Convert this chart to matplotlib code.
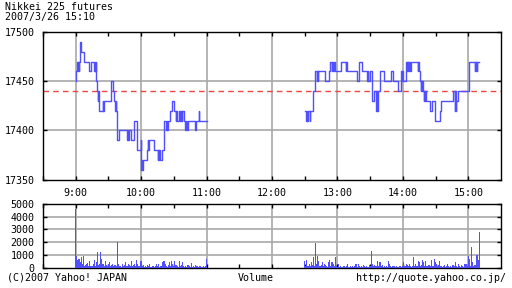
import matplotlib
matplotlib.use("Agg")
import matplotlib.pyplot as plt
import numpy as np

# ---------------- data ----------------
title_lines = ["Nikkei 225 futures", "2007/3/26 15:10"]
hour_ticks = [9, 10, 11, 12, 13, 14, 15]
hour_labels = ["9:00", "10:00", "11:00", "12:00", "13:00", "14:00", "15:00"]
price_ticks = [17350, 17400, 17450, 17500]
volume_ticks = [0, 1000, 2000, 3000, 4000, 5000]
reference_price = 17440

# morning session: minutes after 9:00 and price at each change
am_minutes = [0, 0.3, 0.9, 1.8, 2.3, 2.8, 3.2, 4.0, 4.9, 7.6, 11.9, 13.8, 17.1, 17.5, 17.9, 18.3,
              18.7, 19.9, 20.3, 20.7, 21.0, 21.4, 21.8, 24.8, 25.2, 25.6, 26.0, 26.3, 32.1, 34.0,
              35.5, 36.0, 36.5, 37.0, 37.6, 39.4, 47.4, 47.9, 48.4, 48.9, 50.8, 53.2, 56.0, 56.6,
              59.6, 60.0, 60.8, 61.2, 61.5, 65.7, 66.1, 66.5, 67.0, 72.2, 75.2, 75.8, 76.3, 76.8,
              77.3, 78.9, 81.3, 82.8, 83.3, 84.0, 84.5, 86.5, 88.4, 90.2, 91.7, 92.2, 92.7, 94.8,
              96.0, 96.4, 97.5, 97.9, 99.7, 100.2, 101.2, 101.6, 102.0, 102.4, 102.8, 109.8, 110.4,
              112.8, 113.5, 120.0]
am_prices = [17450, 17460, 17470, 17460, 17470, 17460, 17470, 17490, 17480, 17470, 17460, 17470, 17460, 17470, 17460, 17470,
             17450, 17440, 17430, 17440, 17420, 17430, 17420, 17430, 17420, 17430, 17420, 17430, 17450, 17440,
             17430, 17420, 17430, 17420, 17390, 17400, 17390, 17400, 17390, 17400, 17390, 17410, 17390, 17380,
             17390, 17360, 17370, 17360, 17370, 17380, 17390, 17380, 17390, 17380, 17370, 17380, 17370, 17380,
             17370, 17380, 17410, 17400, 17410, 17400, 17410, 17420, 17430, 17420, 17410, 17420, 17410, 17420,
             17410, 17420, 17410, 17420, 17410, 17400, 17410, 17400, 17410, 17400, 17410, 17400, 17410,
             17420, 17410, 17410]

# afternoon session: minutes after 12:30 and price at each change
pm_minutes = [0.6, 1.2, 1.8, 2.3, 3.3, 4.5, 5.2, 7.9, 9.8, 11.0, 11.5, 12.0, 12.5, 19.0, 22.0, 23.3,
              24.9, 25.3, 25.8, 26.5, 28.2, 33.4, 37.8, 38.3, 38.8, 39.5, 48.0, 50.2, 52.7, 57.3,
              57.8, 58.3, 59.5, 61.3, 63.4, 65.5, 66.0, 66.5, 67.4, 69.2, 72.3, 79.3, 80.9, 85.5,
              88.0, 88.5, 89.0, 89.5, 90.0, 93.0, 93.5, 94.0, 94.5, 95.0, 95.5, 96.0, 96.5, 97.7,
              103.8, 104.3, 104.8, 106.0, 106.5, 107.0, 107.5, 108.0, 108.5, 109.0, 109.5, 110.0,
              110.5, 111.0, 114.5, 116.7, 119.1, 123.7, 125.3, 136.0, 137.5, 138.0, 138.5, 139.0,
              140.6, 150.7, 155.9, 156.4, 156.9, 157.4, 157.9, 158.4, 160.0]
pm_prices = [17420, 17410, 17420, 17410, 17420, 17410, 17420, 17440, 17460, 17450, 17460, 17450, 17460, 17450, 17460, 17470,
             17460, 17470, 17460, 17470, 17460, 17470, 17460, 17470, 17460, 17460, 17450, 17470, 17460, 17450,
             17460, 17450, 17460, 17430, 17440, 17420, 17440, 17420, 17440, 17460, 17450, 17460, 17450, 17440,
             17450, 17460, 17450, 17460, 17450, 17470, 17460, 17470, 17460, 17470, 17460, 17470, 17460, 17470,
             17460, 17470, 17460, 17450, 17440, 17450, 17440, 17450, 17440, 17430, 17440, 17430,
             17440, 17430, 17420, 17430, 17410, 17420, 17430, 17440, 17420, 17440, 17420, 17430,
             17440, 17470, 17460, 17470, 17460, 17470, 17460, 17470, 17470]

# volume per minute, 9:00-11:00
am_volume = [4600, 870, 600, 700, 400, 800, 300, 900, 150, 200,
             300, 350, 100, 500, 150, 100, 300, 600, 150, 400,
             1200, 200, 300, 1200, 700, 300, 100, 500, 200, 100,
             300, 400, 100, 200, 300, 100, 200, 100, 2000, 300,
             150, 100, 50, 300, 100, 200, 400, 100, 300, 200,
             100, 500, 100, 200, 300, 100, 600, 300, 100, 500,
             500, 100, 200, 50, 100, 50, 200, 100, 250, 50,
             100, 100, 50, 150, 300, 100, 250, 50, 100, 150,
             400, 500, 300, 100, 50, 200, 400, 100, 500, 300,
             100, 500, 200, 100, 50, 550, 100, 200, 400, 100,
             50, 100, 50, 200, 100, 50, 350, 50, 100, 50,
             200, 100, 150, 50, 100, 50, 50, 150, 50, 100,
             650]
# volume per minute, 12:30-15:10
pm_volume = [500, 100, 600, 150, 300, 100, 400, 200, 800, 100,
             1950, 300, 900, 500, 100, 200, 400, 100, 300, 200,
             100, 50, 400, 600, 100, 400, 300, 100, 800, 100,
             50, 250, 50, 100, 50, 50, 100, 50, 100, 250,
             50, 50, 100, 50, 100, 50, 100, 250, 50, 250,
             100, 50, 100, 50, 200, 100, 50, 100, 50, 200,
             100, 1300, 300, 100, 200, 100, 150, 500, 100, 400,
             100, 200, 50, 100, 50, 100, 50, 500, 300, 100,
             50, 100, 100, 50, 100, 50, 50, 100, 100, 50,
             100, 400, 100, 300, 200, 100, 250, 100, 50, 150,
             800, 100, 300, 100, 500, 400, 100, 200, 600, 400,
             100, 500, 150, 100, 200, 100, 600, 150, 100, 700,
             400, 300, 100, 200, 500, 100, 50, 150, 200, 50,
             100, 300, 100, 50, 100, 50, 200, 100, 400, 100,
             50, 300, 100, 50, 200, 100, 50, 300, 300, 100,
             900, 700, 100, 1600, 400, 100, 200, 200, 1000, 600,
             2800]

# ---------------- drawing ----------------
FONT = "DejaVu Sans Mono"
FS = 7.2
LINE_C = "#5050ff"
GRID_C = "#a8a8a8"

fig = plt.figure(figsize=(5.12, 2.88), dpi=100)
W, H = 512.0, 288.0
ax1 = fig.add_axes([43 / W, 1 - 179.5 / H, 458 / W, 147.5 / H])
ax2 = fig.add_axes([43 / W, 1 - 267.5 / H, 458 / W, 63.5 / H])

am_x = 9 + np.array(am_minutes) / 60.0
pm_x = 12.5 + np.array(pm_minutes) / 60.0
ax1.step(am_x, am_prices, where="post", color=LINE_C, lw=1.0, zorder=3)
ax1.step(pm_x, pm_prices, where="post", color=LINE_C, lw=1.0, zorder=3)
ax1.axhline(reference_price, color="#ee4444", lw=1.0, ls=(0, (4, 3)), zorder=2)

ax1.set_xlim(8.5, 15.5)
ax1.set_ylim(17350, 17500)
ax1.set_yticks(price_ticks)
ax1.set_yticklabels([str(v) for v in price_ticks], family=FONT, fontsize=FS)
ax1.set_xticks(hour_ticks)
ax1.set_xticklabels(hour_labels, family=FONT, fontsize=FS)
ax1.set_xticks([h + 0.5 for h in range(8, 15)], minor=True)
for y in [17400, 17450]:
    ax1.axhline(y, color=GRID_C, lw=1.2, zorder=1)
for h in hour_ticks:
    ax1.axvline(h, color=GRID_C, lw=1.2, zorder=1)

am_vx = 9 + np.arange(len(am_volume)) / 60.0
pm_vx = 12.5 + np.arange(len(pm_volume)) / 60.0
ax2.bar(am_vx, am_volume, width=1.0 / 60.0, color=LINE_C, align="center", zorder=3,
        lw=0, antialiased=False)
ax2.bar(pm_vx, pm_volume, width=1.0 / 60.0, color=LINE_C, align="center", zorder=3,
        lw=0, antialiased=False)
ax2.set_xlim(8.5, 15.5)
ax2.set_ylim(0, 5000)
ax2.set_yticks(volume_ticks)
ax2.set_yticklabels([str(v) for v in volume_ticks], family=FONT, fontsize=FS)
ax2.set_xticks(hour_ticks)
ax2.set_xticklabels([])
ax2.set_xticks([h + 0.5 for h in range(8, 15)], minor=True)
for y in [1000, 2000, 3000, 4000]:
    ax2.axhline(y, color=GRID_C, lw=1.2, zorder=1)
for h in hour_ticks:
    ax2.axvline(h, color=GRID_C, lw=1.2, zorder=1)

for ax in (ax1, ax2):
    for s in ax.spines.values():
        s.set_color("black")
        s.set_linewidth(1.0)
    ax.tick_params(axis="both", which="major", direction="in", length=3, width=1,
                   top=True, right=True, colors="black", pad=6)
    ax.tick_params(axis="x", which="minor", direction="in", length=3, width=1,
                   top=True, bottom=True)
    ax.tick_params(axis="y", which="major", pad=6)
    ax.set_facecolor("white")

fig.text(5 / W, 1 - 7 / H, title_lines[0], family=FONT, fontsize=FS, va="center", ha="left")
fig.text(5 / W, 1 - 17 / H, title_lines[1], family=FONT, fontsize=FS, va="center", ha="left")
fig.text(7 / W, 1 - 278 / H, "(C)2007 Yahoo! JAPAN", family=FONT, fontsize=FS, va="center", ha="left")
fig.text(256 / W, 1 - 278 / H, "Volume", family=FONT, fontsize=FS, va="center", ha="center")
fig.text(506 / W, 1 - 278 / H, "http://quote.yahoo.co.jp/", family=FONT, fontsize=FS, va="center", ha="right")

fig.savefig("out.png", dpi=100, facecolor="white")
